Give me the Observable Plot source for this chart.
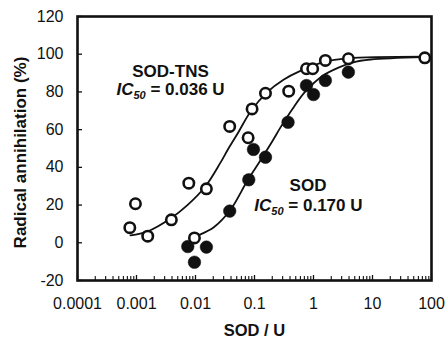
<!DOCTYPE html>
<html><head><meta charset="utf-8">
<script src="https://cdn.jsdelivr.net/npm/d3@7"></script>
<script src="https://cdn.jsdelivr.net/npm/@observablehq/plot@0.6"></script>
<style>
body{margin:0;background:#fff}
#chart svg{font-family:"Liberation Sans",Arial,sans-serif;background:#fff}
</style>
</head><body><div id="chart"></div>
<script>
// SOD-TNS (open circles)
const tnsDose  = [0.00077, 0.00096, 0.00155, 0.0039, 0.0077, 0.0096, 0.0153, 0.038, 0.078, 0.091, 0.1535, 0.38, 0.76, 0.97, 1.59, 3.9, 77];
const tnsAnnih = [8, 20.7, 3.5, 12.2, 31.6, 2.6, 28.6, 61.7, 55.7, 71, 79.3, 80.4, 92.3, 92.3, 96.7, 97.6, 98.1];
// SOD (filled circles)
const sodDose  = [0.0074, 0.0096, 0.0153, 0.038, 0.08, 0.096, 0.1535, 0.37, 0.76, 1.0, 1.59, 3.9];
const sodAnnih = [-2, -10.3, -2.3, 16.8, 33.4, 49.5, 45.4, 63.9, 83.4, 78.6, 86.1, 90.5];
// fitted curves
const tnsFitDose  = [0.00079, 0.00153, 0.00377, 0.0073, 0.0148, 0.0265, 0.0362, 0.0515, 0.0855, 0.166, 0.31, 0.60, 1.48, 3.77, 73];
const tnsFitAnnih = [3.9, 6.0, 12.9, 20.0, 30.0, 42.5, 50.0, 57.8, 69.5, 80.0, 86.5, 91.2, 95.8, 97.8, 98.7];
const sodFitDose  = [0.0082, 0.0092, 0.0202, 0.0392, 0.076, 0.1265, 0.2018, 0.276, 0.44, 0.73, 1.42, 2.65, 4.58, 9.25, 73];
const sodFitAnnih = [1.2, 2.6, 8.1, 17.5, 33, 43.8, 54.0, 61.2, 71.0, 80.3, 88.5, 92.9, 95.6, 97.2, 98.5];

const xTicks = [0.0001, 0.001, 0.01, 0.1, 1, 10, 100];
const xTickLabels = ["0.0001", "0.001", "0.01", "0.1", "1", "10", "100"];
const yTicks = [-20, 0, 20, 40, 60, 80, 100, 120];
const yTickLabels = ["-20", "0", "20", "40", "60", "80", "100", "120"];
const xTitle = "SOD / U";
const yTitle = "Radical annihilation (%)";
const labelTns = "SOD-TNS", icTns = "IC50 = 0.036 U";
const labelSod = "SOD", icSod = "IC50 = 0.170 U";

const xMinor = [];
for (let k = 0; k < xTicks.length - 1; k++) for (let m = 2; m <= 9; m++) xMinor.push(xTicks[k] * m);

const tns = tnsDose.map((x, i) => ({x, y: tnsAnnih[i]}));
const sod = sodDose.map((x, i) => ({x, y: sodAnnih[i]}));
const tnsFit = tnsFitDose.map((x, i) => ({x, y: tnsFitAnnih[i]}));
const sodFit = sodFitDose.map((x, i) => ({x, y: sodFitAnnih[i]}));

const W = 447, H = 342, mT = 16, mR = 16, mB = 62, mL = 77;
const ph = H - mT - mB, pw = W - mL - mR;
const ink = "#111";

const chart = Plot.plot({
  width: W, height: H,
  marginTop: mT, marginRight: mR, marginBottom: mB, marginLeft: mL,
  style: {fontFamily: '"Liberation Sans", Arial, sans-serif', color: ink, background: "#fff"},
  x: {type: "log", domain: [0.0001, 100]},
  y: {domain: [-20, 120]},
  marks: [
    Plot.axisX(xTicks, {tickSize: 0, tickPadding: 17, fontSize: 16, fill: ink,
      tickFormat: d => xTickLabels[xTicks.indexOf(d)], label: null}),
    Plot.axisY(yTicks, {tickSize: 0, tickPadding: 14, fontSize: 16, fill: ink,
      tickFormat: d => yTickLabels[yTicks.indexOf(d)], label: null}),
    Plot.ruleX(xTicks, {x: d => d, insetTop: ph - 5, stroke: ink, strokeWidth: 1.3}),
    Plot.ruleX(xMinor, {x: d => d, insetTop: ph - 4, stroke: ink, strokeWidth: 1.1}),
    Plot.ruleY(yTicks, {y: d => d, insetRight: pw - 5, stroke: ink, strokeWidth: 1.3}),
    Plot.frame({stroke: ink, strokeWidth: 2.6}),
    Plot.line(tnsFit, {x: "x", y: "y", stroke: ink, strokeWidth: 1.8, curve: "catmull-rom"}),
    Plot.line(sodFit, {x: "x", y: "y", stroke: ink, strokeWidth: 1.8, curve: "catmull-rom"}),
    Plot.dot(sod, {x: "x", y: "y", r: 6.3, fill: ink, stroke: ink, strokeWidth: 0.5}),
    Plot.dot(tns, {x: "x", y: "y", r: 5.2, fill: "white", stroke: ink, strokeWidth: 2.6}),
    Plot.text([labelTns], {x: 0.00377, y: 90.6, text: d => d, fontSize: 17, fontWeight: "bold", fill: ink}),
    Plot.text([icTns], {x: 0.00377, y: 81.3, text: d => d, fontSize: 17, fontWeight: "bold", fill: ink}),
    Plot.text([labelSod], {x: 0.807, y: 30.4, text: d => d, fontSize: 17, fontWeight: "bold", fill: ink}),
    Plot.text([icSod], {x: 0.82, y: 20.0, text: d => d, fontSize: 17, fontWeight: "bold", fill: ink}),
    Plot.text([xTitle], {frameAnchor: "bottom", dy: 55, text: d => d, fontSize: 16.5, fontWeight: "bold", fill: ink}),
    Plot.text([yTitle], {frameAnchor: "left", textAnchor: "middle", dx: -57, dy: 4, rotate: -90, text: d => d, fontSize: 17, fontWeight: "bold", fill: ink})
  ]
});

// rich formatting for IC50 labels (italic IC with subscript 50)
chart.querySelectorAll("text").forEach(t => {
  const s = t.textContent;
  if (s.startsWith("IC50")) {
    const ns = "http://www.w3.org/2000/svg";
    const rest = s.slice(4);
    t.textContent = "";
    const a = document.createElementNS(ns, "tspan");
    a.setAttribute("font-style", "italic"); a.textContent = "IC";
    const b = document.createElementNS(ns, "tspan");
    b.setAttribute("font-style", "italic"); b.setAttribute("font-size", "11");
    b.setAttribute("dy", "4"); b.textContent = "50";
    const c = document.createElementNS(ns, "tspan");
    c.setAttribute("dy", "-4"); c.textContent = rest;
    t.append(a, b, c);
  }
});
document.getElementById("chart").append(chart);
</script>
</body></html>
